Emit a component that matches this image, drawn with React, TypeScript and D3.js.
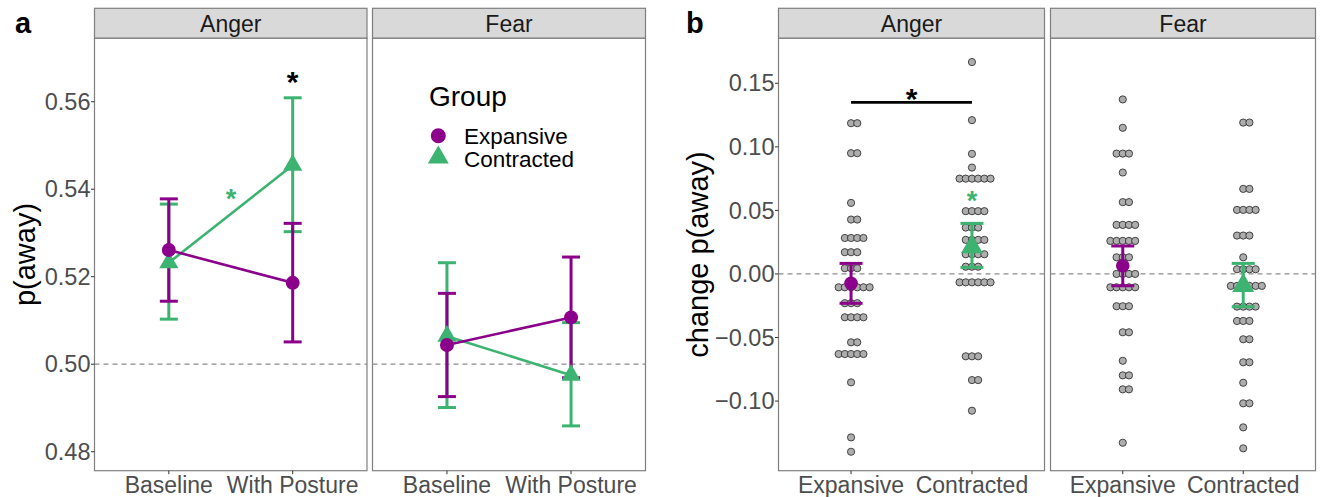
import React from "react";
import * as d3 from "d3";

// ---------- data ----------
const emotions = ["Anger", "Fear"];
const phases = ["Baseline", "With Posture"];
const groups = ["Expansive", "Contracted"];
const groupColors = ["#8B008B", "#3CB371"];

// panel a : p(away) per phase [Baseline, With Posture]
const angerExpMean = [0.5261, 0.5186];
const angerExpLow = [0.5144, 0.5051];
const angerExpHigh = [0.5378, 0.5322];
const angerConMean = [0.5232, 0.5455];
const angerConLow = [0.5103, 0.5303];
const angerConHigh = [0.5366, 0.5609];
const fearExpMean = [0.5044, 0.5107];
const fearExpLow = [0.4926, 0.4969];
const fearExpHigh = [0.5162, 0.5245];
const fearConMean = [0.5064, 0.4975];
const fearConLow = [0.4901, 0.4859];
const fearConHigh = [0.5232, 0.5095];
const aTicks = [0.48, 0.5, 0.52, 0.54, 0.56];

// panel b : change p(away), summary per group [Expansive, Contracted]
const bAngerMean = [-0.0074, 0.0212];
const bAngerLow = [-0.0231, 0.0052];
const bAngerHigh = [0.0083, 0.0398];
const bFearMean = [0.0065, -0.0093];
const bFearLow = [-0.0093, -0.0258];
const bFearHigh = [0.022, 0.0083];
const bTicks = [-0.1, -0.05, 0, 0.05, 0.1, 0.15];

// dot rows: [value, count]
const dotsAngerExp = [
  [0.1186, 2], [0.095, 2], [0.0559, 1], [0.0428, 2], [0.0283, 4], [0.0171, 3],
  [0.0045, 3], [-0.0105, 6], [-0.023, 3], [-0.0341, 4], [-0.0538, 2], [-0.063, 5],
  [-0.0853, 1], [-0.1286, 1], [-0.1399, 1],
];
const dotsAngerCon = [
  [0.1667, 1], [0.121, 1], [0.0945, 1], [0.0837, 1], [0.075, 6], [0.0494, 4],
  [0.0365, 3], [0.0268, 4], [0.0155, 4], [0.0057, 3], [-0.0066, 6], [-0.0648, 3],
  [-0.0835, 2], [-0.1076, 1],
];
const dotsFearExp = [
  [0.1373, 1], [0.115, 1], [0.0947, 3], [0.0798, 1], [0.0565, 2], [0.0386, 4],
  [0.026, 5], [0.0131, 3], [0.0, 4], [-0.0105, 5], [-0.0254, 3], [-0.0459, 2],
  [-0.0683, 1], [-0.0798, 2], [-0.0908, 2], [-0.1328, 1],
];
const dotsFearCon = [
  [0.1191, 2], [0.0669, 2], [0.0504, 4], [0.0302, 3], [0.0131, 1], [0.0037, 4],
  [-0.0094, 6], [-0.0257, 4], [-0.037, 3], [-0.0514, 2], [-0.0695, 2], [-0.0856, 1],
  [-0.1018, 2], [-0.1207, 1], [-0.1372, 1],
];

// ---------- layout ----------
const W = 1328;
const H = 497;
const FONT = "'Liberation Sans', Arial, Helvetica, sans-serif";
const stripTop = 8.3;
const plotTop = 38.3;
const plotBottom = 470.7;
const aPanels = [[94.5, 367], [372.5, 645.5]];
const bPanels = [[778.5, 1044.5], [1050.5, 1315.5]];

const yA = d3.scaleLinear().domain([0.47566, 0.5745]).range([plotBottom, plotTop]);
const yB = d3.scaleLinear().domain([-0.1548, 0.1854]).range([plotBottom, plotTop]);

const tri = d3.symbol().type(d3.symbolTriangle);
const fmtA = d3.format(".2f");
const fmtB = (v: number) => (v < 0 ? "\u2212" : "") + d3.format(".2f")(Math.abs(v));

function Panel({ x0, x1, label }: { x0: number; x1: number; label: string }) {
  return (
    <g>
      <rect x={x0} y={stripTop} width={x1 - x0} height={plotTop - stripTop} fill="#d9d9d9" stroke="#7f7f7f" strokeWidth={1.2} />
      <text x={(x0 + x1) / 2} y={31.5} textAnchor="middle" fontSize={23} fill="#1a1a1a" fontFamily={FONT}>{label}</text>
      <rect x={x0} y={plotTop} width={x1 - x0} height={plotBottom - plotTop} fill="white" stroke="#7f7f7f" strokeWidth={1.2} />
    </g>
  );
}

function ErrorBar({ x, lo, hi, y, color, cap }: any) {
  return (
    <g stroke={color} strokeWidth={3}>
      <line x1={x} x2={x} y1={y(lo)} y2={y(hi)} />
      <line x1={x - cap / 2} x2={x + cap / 2} y1={y(lo)} y2={y(lo)} />
      <line x1={x - cap / 2} x2={x + cap / 2} y1={y(hi)} y2={y(hi)} />
    </g>
  );
}

function Marker({ gi, x, y, r, triSize }: any) {
  if (gi === 0) return <circle cx={x} cy={y} r={r} fill={groupColors[0]} />;
  return <path d={tri.size(triSize)() as string} transform={`translate(${x},${y})`} fill={groupColors[1]} />;
}

export default function App() {
  const aData = [
    [
      [angerExpMean, angerExpLow, angerExpHigh],
      [angerConMean, angerConLow, angerConHigh],
    ],
    [
      [fearExpMean, fearExpLow, fearExpHigh],
      [fearConMean, fearConLow, fearConHigh],
    ],
  ];
  const bData = [
    [bAngerMean, bAngerLow, bAngerHigh],
    [bFearMean, bFearLow, bFearHigh],
  ];
  const bDots = [
    [dotsAngerExp, dotsAngerCon],
    [dotsFearExp, dotsFearCon],
  ];
  const dotStep = 6.2;
  const dotR = 3.6;

  return (
    <svg width={W} height={H} style={{ position: "absolute", left: 0, top: 0 }} fontFamily={FONT}>
      <rect x={0} y={0} width={W} height={H} fill="white" />
      {/* panel labels */}
      <text x={15} y={33} fontSize={29} fontWeight="bold" fontFamily={FONT}>a</text>
      <text x={686} y={33} fontSize={29} fontWeight="bold" fontFamily={FONT}>b</text>

      {/* ---------- panel a ---------- */}
      {emotions.map((em, ei) => {
        const [x0, x1] = aPanels[ei];
        const x = d3.scalePoint().domain(phases).range([x0, x1]).padding(0.6);
        return (
          <g key={"a" + em}>
            <Panel x0={x0} x1={x1} label={em} />
            <line x1={x0} x2={x1} y1={yA(0.5)} y2={yA(0.5)} stroke="#8c8c8c" strokeWidth={1.3} strokeDasharray="5,4" />
            {[1, 0].map((gi) => {
              const [m, lo, hi] = aData[ei][gi];
              const line = d3.line<number>().x((_, i) => x(phases[i]) as number).y((v) => yA(v));
              return (
                <g key={gi}>
                  <path d={line(m) as string} fill="none" stroke={groupColors[gi]} strokeWidth={2.6} />
                  {phases.map((p, pi) => (
                    <ErrorBar key={p} x={x(p)} lo={lo[pi]} hi={hi[pi]} y={yA} color={groupColors[gi]} cap={18} />
                  ))}
                </g>
              );
            })}
            {[1, 0].map((gi) =>
              phases.map((p, pi) => (
                <Marker key={gi + p} gi={gi} x={x(p)} y={yA(aData[ei][gi][0][pi])} r={7} triSize={160} />
              ))
            )}
            {phases.map((p) => (
              <g key={p}>
                <line x1={x(p)} x2={x(p)} y1={plotBottom} y2={plotBottom + 3.5} stroke="#333" strokeWidth={1} />
                <text x={x(p)} y={493} textAnchor="middle" fontSize={23} fill="#4d4d4d">{p}</text>
              </g>
            ))}
            {ei === 0 && (
              <g>
                {aTicks.map((t) => (
                  <g key={t}>
                    <line x1={x0 - 3.5} x2={x0} y1={yA(t)} y2={yA(t)} stroke="#333" strokeWidth={1} />
                    <text x={x0 - 4} y={yA(t) + 8.2} textAnchor="end" fontSize={23.5} fill="#4d4d4d">{fmtA(t)}</text>
                  </g>
                ))}
                <text transform={`translate(35,${(plotTop + plotBottom) / 2}) rotate(-90)`} textAnchor="middle" fontSize={29} fill="black">p(away)</text>
                <text x={x("With Posture")} y={92} textAnchor="middle" fontSize={30} fontWeight="bold" fill="black">*</text>
                <text x={231} y={208} textAnchor="middle" fontSize={27} fontWeight="bold" fill={groupColors[1]}>*</text>
              </g>
            )}
            {ei === 1 && (
              <g>
                <text x={429} y={105.5} fontSize={28} fill="black">Group</text>
                <circle cx={438.3} cy={135.7} r={7.5} fill={groupColors[0]} />
                <path d={tri.size(190)() as string} transform={`translate(438.3,157.5)`} fill={groupColors[1]} />
                <text x={464} y={143.5} fontSize={22.5} fill="black">{groups[0]}</text>
                <text x={464} y={166.5} fontSize={22.5} fill="black">{groups[1]}</text>
              </g>
            )}
          </g>
        );
      })}

      {/* ---------- panel b ---------- */}
      {emotions.map((em, ei) => {
        const [x0, x1] = bPanels[ei];
        const x = d3.scalePoint().domain(groups).range([x0, x1]).padding(0.6);
        return (
          <g key={"b" + em}>
            <Panel x0={x0} x1={x1} label={em} />
            <line x1={x0} x2={x1} y1={yB(0)} y2={yB(0)} stroke="#8c8c8c" strokeWidth={1.3} strokeDasharray="5,4" />
            {groups.map((g, gi) => {
              const cx = x(g) as number;
              return (
                <g key={g}>
                  {bDots[ei][gi].map(([v, n], ri) => {
                    const off = Math.floor((n - 1) / 2);
                    return d3.range(n).map((k) => (
                      <circle
                        key={ri + "-" + k}
                        cx={cx + (k - off) * dotStep}
                        cy={yB(v)}
                        r={dotR}
                        fill="#adadad"
                        stroke="#333"
                        strokeWidth={0.9}
                      />
                    ));
                  })}
                </g>
              );
            })}
            {groups.map((g, gi) => {
              const cx = x(g) as number;
              const [m, lo, hi] = bData[ei];
              return (
                <g key={"s" + g}>
                  <ErrorBar x={cx} lo={lo[gi]} hi={hi[gi]} y={yB} color={groupColors[gi]} cap={23} />
                  <Marker gi={gi} x={cx} y={yB(m[gi])} r={6.8} triSize={210} />
                </g>
              );
            })}
            {groups.map((g) => (
              <g key={"t" + g}>
                <line x1={x(g)} x2={x(g)} y1={plotBottom} y2={plotBottom + 3.5} stroke="#333" strokeWidth={1} />
                <text x={x(g)} y={493} textAnchor="middle" fontSize={23} fill="#4d4d4d">{g}</text>
              </g>
            ))}
            {ei === 0 && (
              <g>
                {bTicks.map((t) => (
                  <g key={t}>
                    <line x1={x0 - 3.5} x2={x0} y1={yB(t)} y2={yB(t)} stroke="#333" strokeWidth={1} />
                    <text x={x0 - 4} y={yB(t) + 8.2} textAnchor="end" fontSize={23.5} fill="#4d4d4d">{fmtB(t)}</text>
                  </g>
                ))}
                <text transform={`translate(708,${(plotTop + plotBottom) / 2}) rotate(-90)`} textAnchor="middle" fontSize={29} fill="black">change p(away)</text>
                <line x1={x("Expansive")} x2={x("Contracted")} y1={yB(0.135)} y2={yB(0.135)} stroke="black" strokeWidth={2.6} />
                <text x={((x("Expansive") as number) + (x("Contracted") as number)) / 2} y={109} textAnchor="middle" fontSize={30} fontWeight="bold" fill="black">*</text>
                <text x={x("Contracted")} y={210} textAnchor="middle" fontSize={27} fontWeight="bold" fill={groupColors[1]}>*</text>
              </g>
            )}
          </g>
        );
      })}
    </svg>
  );
}
